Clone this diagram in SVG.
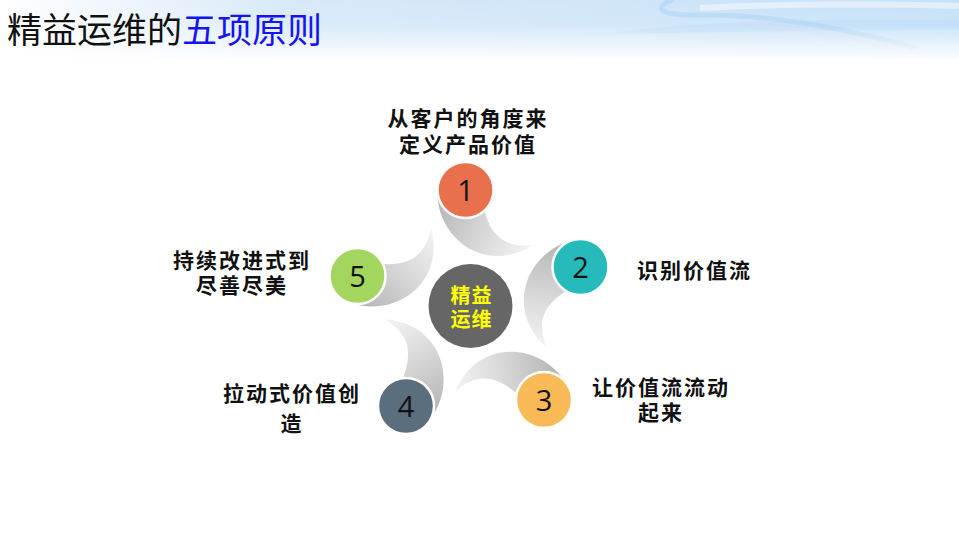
<svg xmlns="http://www.w3.org/2000/svg" width="959" height="539" viewBox="0 0 959 539">
<defs>
<linearGradient id="hdrH" x1="0" y1="0" x2="959" y2="0" gradientUnits="userSpaceOnUse">
<stop offset="0" stop-color="#ffffff"/>
<stop offset="0.3" stop-color="#d8e9f9"/>
<stop offset="1" stop-color="#c6e1f8"/>
</linearGradient>
<linearGradient id="hdrV" x1="0" y1="0" x2="0" y2="72" gradientUnits="userSpaceOnUse">
<stop offset="0" stop-color="#ffffff" stop-opacity="0"/>
<stop offset="0.35" stop-color="#ffffff" stop-opacity="0.1"/>
<stop offset="0.85" stop-color="#ffffff" stop-opacity="1"/>
</linearGradient>
<linearGradient id="tailG" x1="-30" y1="-105" x2="62" y2="-55" gradientUnits="userSpaceOnUse">
<stop offset="0" stop-color="#b5b5b5"/>
<stop offset="0.55" stop-color="#d9d9d9"/>
<stop offset="1" stop-color="#f3f3f3"/>
</linearGradient>
<path id="tail" d="M -28,-118 C -32,-70 15,-30 65,-58 C 45,-57 25,-62 18,-95 Z" fill="url(#tailG)"/>
</defs>
<style>
.lbl{font-family:"Noto Sans CJK SC","Noto Sans CJK JP",sans-serif;font-weight:bold;font-size:21px;letter-spacing:2px;fill:#111;text-anchor:middle}
.num{font-family:"Open Sans","Noto Sans",sans-serif;font-size:29px;fill:#111;text-anchor:middle}
.dot{stroke:#ffffff;stroke-width:2.5}
.ctr{font-family:"Noto Sans CJK SC",sans-serif;font-weight:bold;font-size:20px;letter-spacing:1px;fill:#ffff00;text-anchor:middle}
</style>
<rect width="959" height="539" fill="#ffffff"/>
<g id="header">
<rect x="0" y="0" width="959" height="72" fill="url(#hdrH)"/>
<path d="M 617,32 C 700,22 820,18 959,20 L 959,30 C 830,30 720,32 617,34 Z" fill="#b4d8f6" opacity="0.45"/>
<path d="M 672,0 C 652,8 660,16 700,15 C 770,14 850,30 915,48" fill="none" stroke="#9ecaf2" stroke-width="5" stroke-opacity="0.4" stroke-linecap="round"/>
<path d="M 700,8 C 780,4 880,4 959,6" fill="none" stroke="#f4f9fe" stroke-width="6" stroke-opacity="0.6"/>
<path d="M 740,22 C 800,30 860,40 920,52" fill="none" stroke="#e0d4ee" stroke-width="3" stroke-opacity="0.35"/>
<rect x="0" y="0" width="959" height="72" fill="url(#hdrV)"/>
</g>
<text id="title" x="7" y="43" font-family="Noto Sans CJK SC, Noto Sans CJK JP, sans-serif" font-size="35" fill="#111111">精益运维的<tspan fill="#1414f0">五项原则</tspan></text>
<g id="connectors"></g>
<g id="center">
<circle cx="470.5" cy="306" r="42" fill="#666666"/>
<text class="ctr" x="471.5" y="303">精益<tspan x="471.5" dy="24">运维</tspan></text>
</g>
<g id="node1">
<use href="#tail" transform="translate(470.5,306) rotate(-2.5)"/>
<circle class="dot" cx="465.5" cy="190" r="28" fill="#e8704c"/>
<text class="num" x="465.5" y="200.5">1</text>
<text class="lbl" x="468" y="126">从客户的角度来<tspan x="468" dy="26">定义产品价值</tspan></text>
</g>
<g id="node2">
<use href="#tail" transform="translate(470.5,306) rotate(70.5)"/>
<circle class="dot" cx="580.5" cy="267" r="28" fill="#26baba"/>
<text class="num" x="580.5" y="277.5">2</text>
<text class="lbl" x="637" y="278" style="text-anchor:start">识别价值流</text>
</g>
<g id="node3">
<use href="#tail" transform="translate(470.5,306) rotate(142)"/>
<circle class="dot" cx="544" cy="400" r="28" fill="#f8b956"/>
<text class="num" x="544" y="410.5">3</text>
<text class="lbl" x="661" y="395">让价值流流动<tspan x="661" dy="25">起来</tspan></text>
</g>
<g id="node4">
<use href="#tail" transform="translate(470.5,306) rotate(213)"/>
<circle class="dot" cx="406" cy="406" r="28" fill="#5b6e7e"/>
<text class="num" x="406" y="416.5">4</text>
<text class="lbl" x="292" y="401">拉动式价值创<tspan x="292" dy="30">造</tspan></text>
</g>
<g id="node5">
<use href="#tail" transform="translate(470.5,306) rotate(285)"/>
<circle class="dot" cx="357.5" cy="276" r="28" fill="#a3d65f"/>
<text class="num" x="357.5" y="286.5">5</text>
<text class="lbl" x="242" y="268">持续改进式到<tspan x="242" dy="25">尽善尽美</tspan></text>
</g>
</svg>
